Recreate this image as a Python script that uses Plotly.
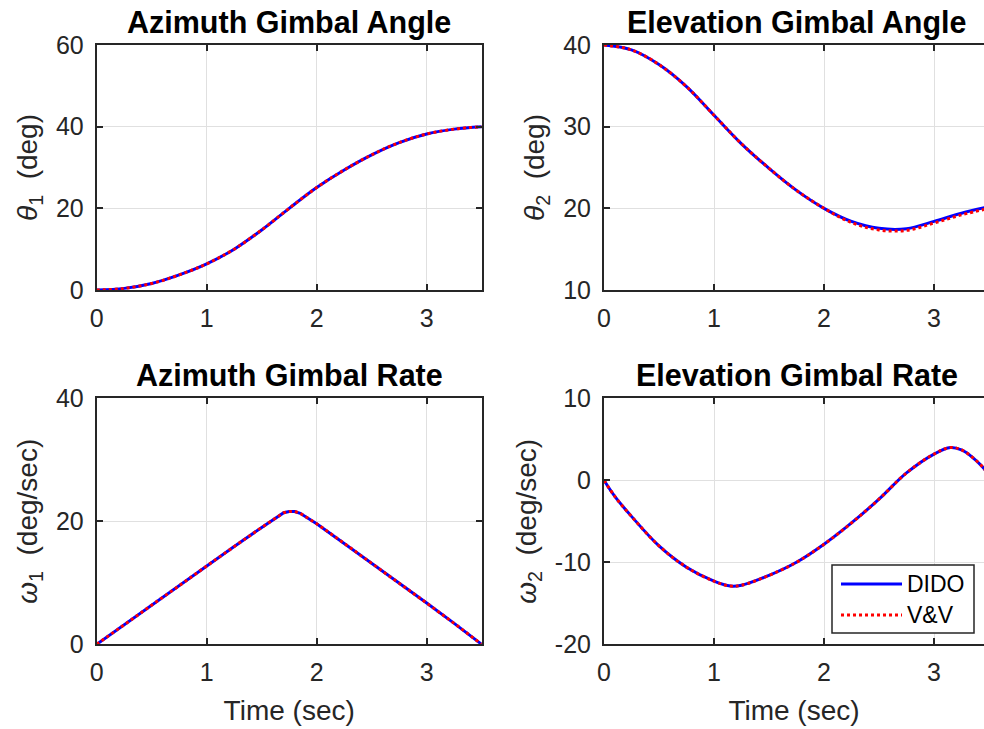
import plotly.graph_objects as go

# ---------------- data ----------------
t_th1 = [0, 0.25, 0.5, 0.75, 1.0, 1.25, 1.5, 1.75, 2.0, 2.25, 2.5, 2.75, 3.0, 3.25, 3.5]
theta1_dido = [0, 0.4, 1.6, 3.7, 6.4, 10.0, 14.7, 20.0, 25.1, 29.4, 33.1, 36.1, 38.2, 39.4, 40.0]
theta1_vv = [0, 0.4, 1.6, 3.7, 6.4, 10.0, 14.7, 20.0, 25.1, 29.4, 33.1, 36.1, 38.2, 39.4, 40.0]

t_th2 = [0, 0.25, 0.5, 0.75, 1.0, 1.25, 1.5, 1.75, 2.0, 2.25, 2.5, 2.75, 3.0, 3.25, 3.5]
theta2_dido = [40, 39.4, 37.6, 34.9, 31.4, 27.9, 24.9, 22.2, 20.0, 18.4, 17.55, 17.5, 18.4, 19.4, 20.2]
theta2_vv = [40, 39.4, 37.6, 34.9, 31.4, 27.9, 24.9, 22.2, 20.0, 18.25, 17.35, 17.3, 18.2, 19.2, 20.0]

t_w1 = [0, 0.25, 0.5, 0.75, 1.0, 1.25, 1.5, 1.7, 1.75, 1.8, 1.85, 2.0, 2.25, 2.5, 2.75, 3.0, 3.25, 3.5]
omega1_dido = [0, 3.2, 6.4, 9.6, 12.8, 15.9, 19.0, 21.4, 21.6, 21.6, 21.3, 19.6, 16.4, 13.2, 9.9, 6.7, 3.4, 0]
omega1_vv = [0, 3.2, 6.4, 9.6, 12.8, 15.9, 19.0, 21.4, 21.6, 21.6, 21.3, 19.6, 16.4, 13.2, 9.9, 6.7, 3.4, 0]

t_w2 = [0, 0.1, 0.25, 0.5, 0.75, 1.0, 1.15, 1.25, 1.5, 1.75, 2.0, 2.25, 2.5, 2.75, 3.0, 3.15, 3.25, 3.35, 3.45, 3.5]
omega2_dido = [0, -2.0, -4.4, -8.0, -10.6, -12.3, -12.9, -12.8, -11.6, -10.0, -7.8, -5.2, -2.3, 0.9, 3.2, 4.0, 3.7, 2.8, 1.5, 0.6]
omega2_vv = [0, -2.0, -4.4, -8.0, -10.6, -12.3, -12.9, -12.8, -11.6, -10.0, -7.8, -5.2, -2.3, 0.9, 3.2, 4.0, 3.7, 2.8, 1.5, 0.6]

titles = ["Azimuth Gimbal Angle", "Elevation Gimbal Angle", "Azimuth Gimbal Rate", "Elevation Gimbal Rate"]
ylabels = ["<i>θ</i><sub>1</sub>\u00a0\u00a0(deg)", "<i>θ</i><sub>2</sub>\u00a0\u00a0(deg)",
           "<i>ω</i><sub>1</sub>\u00a0\u00a0(deg/sec)", "<i>ω</i><sub>2</sub>\u00a0\u00a0(deg/sec)"]
xlabel = "Time (sec)"
series_names = ["DIDO", "V&V"]
x_ticks = [0, 1, 2, 3]
x_ticktext = ["0", "1", "2", "3"]
y_ticks = [[0, 20, 40, 60], [10, 20, 30, 40], [0, 20, 40], [-20, -10, 0, 10]]
y_ticktext = [["0", "20", "40", "60"], ["10", "20", "30", "40"], ["0", "20", "40"], ["-20", "-10", "0", "10"]]
y_ranges = [[0, 60], [10, 40], [0, 40], [-20, 10]]

# ---------------- style ----------------
FONT = "Liberation Sans, Arial, Helvetica, sans-serif"
AX = "#262626"
GRID = "#e0e0e0"
BLUE = "#0000ff"
RED = "#ff0000"

# the page body margin is removed below, so the figure fills the window
W, H = 984, 729


def px(x):
    return x / W


def py(y):
    return 1 - y / H


xd_left = [px(96.7), px(481.7)]
xd_right = [px(604), 1.0]
yd_top = [py(290), py(45)]
yd_bot = [py(644.3), py(398.3)]
x_right_max = (984 - 604) / 110.0  # right column is cut by the picture edge

fig = go.Figure()

panels = [
    (t_th1, theta1_dido, theta1_vv, "spline"),
    (t_th2, theta2_dido, theta2_vv, "spline"),
    (t_w1, omega1_dido, omega1_vv, "linear"),
    (t_w2, omega2_dido, omega2_vv, "spline"),
]
for i, (tt, d, v, shape) in enumerate(panels):
    xa = "x" if i == 0 else f"x{i+1}"
    ya = "y" if i == 0 else f"y{i+1}"
    fig.add_trace(go.Scatter(x=tt, y=d, mode="lines", name=series_names[0], xaxis=xa, yaxis=ya,
                             line=dict(color=BLUE, width=3, shape=shape), showlegend=False))
    fig.add_trace(go.Scatter(x=tt, y=v, mode="lines", name=series_names[1], xaxis=xa, yaxis=ya,
                             line=dict(color=RED, width=3, dash="3px,3px", shape=shape), showlegend=False))

layout = dict(
    width=W, height=H, margin=dict(l=0, r=0, t=0, b=0, autoexpand=False),
    paper_bgcolor="white", plot_bgcolor="white",
    font=dict(family=FONT, color=AX, size=25),
    showlegend=False,
)

xdoms = [xd_left, xd_right, xd_left, xd_right]
ydoms = [yd_top, yd_top, yd_bot, yd_bot]
for i in range(4):
    xk = "xaxis" if i == 0 else f"xaxis{i+1}"
    yk = "yaxis" if i == 0 else f"yaxis{i+1}"
    xr = [0, 3.5] if i % 2 == 0 else [0, x_right_max]
    xax = dict(domain=xdoms[i], anchor="y" if i == 0 else f"y{i+1}", range=xr, automargin=False,
               tickmode="array", tickvals=x_ticks, ticktext=x_ticktext,
               ticks="inside", ticklen=6, tickwidth=1.5, tickcolor=AX,
               showline=True, linecolor=AX, linewidth=2, mirror="ticks",
               showgrid=True, gridcolor=GRID, gridwidth=1, zeroline=False,
               tickfont=dict(size=25, color=AX, family=FONT), ticklabelstandoff=5)
    if i >= 2:
        xax["title"] = dict(text=xlabel, font=dict(size=28, color=AX, family=FONT), standoff=15)
    yax = dict(domain=ydoms[i], anchor="x" if i == 0 else f"x{i+1}", range=y_ranges[i], automargin=False,
               tickmode="array", tickvals=y_ticks[i], ticktext=y_ticktext[i],
               ticks="inside", ticklen=6, tickwidth=1.5, tickcolor=AX,
               showline=True, linecolor=AX, linewidth=2,
               mirror=("ticks" if i % 2 == 0 else False),
               showgrid=True, gridcolor=GRID, gridwidth=1, zeroline=False,
               tickfont=dict(size=25, color=AX, family=FONT), ticklabelstandoff=6,
               title=dict(text=ylabels[i], font=dict(size=28, color=AX, family=FONT), standoff=10))
    layout[xk] = xax
    layout[yk] = yax

title_x = [px(289), px(797), px(289), px(797)]
title_y = [py(22), py(22), py(375), py(375)]
annotations = []
for i in range(4):
    annotations.append(dict(text=f"<b>{titles[i]}</b>", x=title_x[i], y=title_y[i],
                            xref="paper", yref="paper", xanchor="center", yanchor="middle",
                            showarrow=False, font=dict(size=30.5, color="black", family=FONT)))

# legend box (inside the lower-right panel)
shapes = [
    dict(type="rect", xref="paper", yref="paper", x0=px(832), x1=px(974),
         y0=py(633), y1=py(565), line=dict(color=AX, width=1.5), fillcolor="white", layer="above"),
    dict(type="line", xref="paper", yref="paper", x0=px(841), x1=px(902),
         y0=py(584), y1=py(584), line=dict(color=BLUE, width=3), layer="above"),
    dict(type="line", xref="paper", yref="paper", x0=px(841), x1=px(902),
         y0=py(615), y1=py(615), line=dict(color=RED, width=3, dash="3px,3px"), layer="above"),
]
for name, yy in zip(series_names, [584, 615]):
    annotations.append(dict(text=name, x=px(905), y=py(yy), xref="paper", yref="paper",
                            xanchor="left", yanchor="middle", showarrow=False,
                            font=dict(size=23, color="black", family=FONT)))

layout["annotations"] = annotations
layout["shapes"] = shapes
fig.update_layout(**layout)

fig.write_html("out.html", config={"displayModeBar": False},
               post_script="document.body.style.margin='0px';document.body.style.overflow='hidden';")
